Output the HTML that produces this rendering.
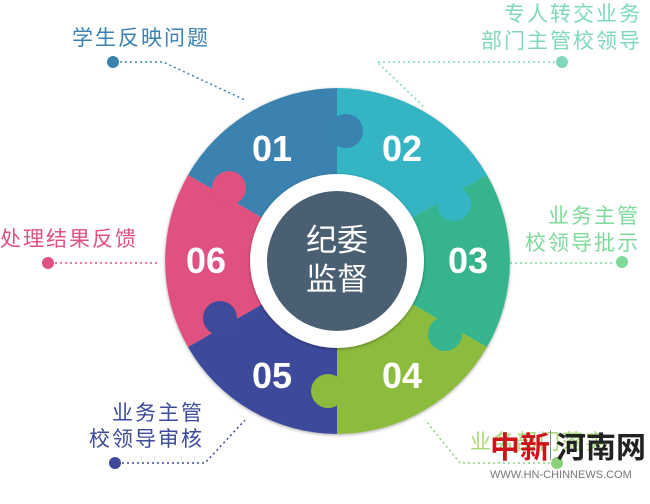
<!DOCTYPE html>
<html><head><meta charset="utf-8"><style>
html,body{margin:0;padding:0;background:#fff;}
svg text{font-family:"Liberation Sans","Noto Sans CJK SC",sans-serif;}
</style></head><body>
<svg width="650" height="499" viewBox="0 0 650 499" xmlns="http://www.w3.org/2000/svg">
<defs>
<filter id="sh" x="-20%" y="-20%" width="140%" height="140%"><feDropShadow dx="0" dy="1" stdDeviation="1.5" flood-color="#000" flood-opacity="0.35"/></filter>
</defs>
<g fill="none" stroke-width="1.5" stroke-dasharray="2 3">
<polyline points="120,62 163,62 245,100" stroke="#3a82b0"/>
<polyline points="555,62 377,62 425,108" stroke="#7fd9b8"/>
<polyline points="55,263 160,263" stroke="#e0517f"/>
<polyline points="415,263 615,263" stroke="#7ed99a"/>
<polyline points="122,463 205,463 245,420" stroke="#3e4a9a"/>
<polyline points="550,463 460,463 425,420" stroke="#8dd27a"/>
</g>
<circle cx="113" cy="62" r="6" fill="#3a82b0"/>
<circle cx="562" cy="62" r="6" fill="#7fd9b8"/>
<circle cx="48" cy="263" r="6" fill="#e0517f"/>
<circle cx="622" cy="262" r="6" fill="#7ed99a"/>
<circle cx="115" cy="463" r="6" fill="#3e4a9a"/>
<circle cx="557" cy="463" r="6" fill="#8dd27a"/>
<g filter="url(#sh)">
<path d="M337,261 L188,175 A173,173 0 0 1 337,88 Z" fill="#3a82b0"/>
<path d="M337,261 L337,88 A173,173 0 0 1 487,175 Z" fill="#35b5c4"/>
<path d="M337,261 L487,175 A173,173 0 0 1 487,347 Z" fill="#35b48e"/>
<path d="M337,261 L487,347 A173,173 0 0 1 337,434 Z" fill="#8dbb3e"/>
<path d="M337,261 L337,434 A173,173 0 0 1 188,347 Z" fill="#3e4a9a"/>
<path d="M337,261 L188,347 A173,173 0 0 1 188,175 Z" fill="#e0517f"/>
</g>
<circle cx="346" cy="131" r="17" fill="#3a82b0"/>
<circle cx="454" cy="204" r="17" fill="#35b5c4"/>
<circle cx="445" cy="334" r="17" fill="#35b48e"/>
<circle cx="328" cy="391" r="17" fill="#8dbb3e"/>
<circle cx="220" cy="318" r="17" fill="#3e4a9a"/>
<circle cx="229" cy="188" r="17" fill="#e0517f"/>
<circle cx="337" cy="261" r="87" fill="#fff" filter="url(#sh)"/>
<circle cx="337" cy="261" r="70" fill="#4a5f72"/>
<text x="337" y="251" text-anchor="middle" font-size="31" fill="#fff">纪委</text>
<text x="337" y="290" text-anchor="middle" font-size="31" fill="#fff">监督</text>
<g font-size="36" font-weight="bold" fill="#fff" text-anchor="middle">
<text x="272" y="161">01</text>
<text x="402" y="161">02</text>
<text x="468" y="273">03</text>
<text x="402" y="388">04</text>
<text x="272" y="388">05</text>
<text x="206" y="273">06</text>
</g>
<g font-size="21" letter-spacing="2">
<text x="72" y="45" fill="#3a82b0">学生反映问题</text>
<text x="642" y="21" fill="#7fd9b8" text-anchor="end">专人转交业务</text>
<text x="642" y="48" fill="#7fd9b8" text-anchor="end">部门主管校领导</text>
<text x="640" y="223" fill="#7ed99a" text-anchor="end">业务主管</text>
<text x="640" y="250" fill="#7ed99a" text-anchor="end">校领导批示</text>
<text x="0" y="246" fill="#e0517f">处理结果反馈</text>
<text x="204" y="420" fill="#3e4a9a" text-anchor="end">业务主管</text>
<text x="204" y="446" fill="#3e4a9a" text-anchor="end">校领导审核</text>
<text x="470" y="449" fill="#a8d97a">业务部门落实</text>
</g>
<text x="490" y="458" font-size="30" font-weight="bold" fill="#d0121b" font-family="Liberation Serif,Noto Serif CJK SC,serif">中新</text>
<rect x="550" y="430" width="1" height="30" fill="#888"/>
<text x="556" y="458" font-size="30" font-weight="bold" fill="#222" font-family="Liberation Serif,Noto Serif CJK SC,serif">河南网</text>
<text x="490" y="478" font-size="11" fill="#777">WWW.HN-CHINNEWS.COM</text>
</svg>
</body></html>
